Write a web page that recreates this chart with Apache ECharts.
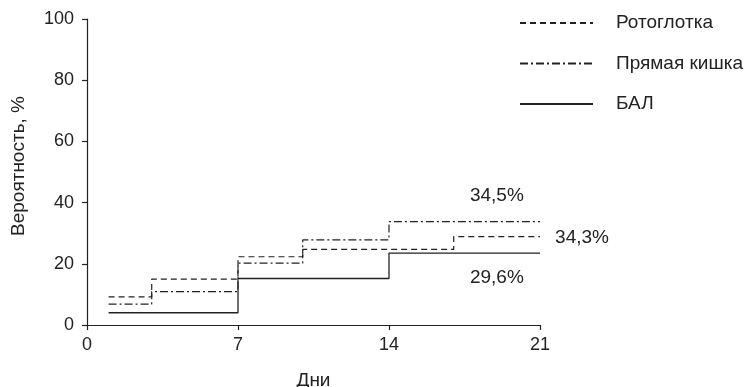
<!DOCTYPE html>
<html><head><meta charset="utf-8">
<script src="https://cdn.jsdelivr.net/npm/echarts@6/dist/echarts.min.js"></script>
<style>html,body{margin:0;padding:0;background:#fff}#c{width:749px;height:387px}</style>
</head><body><div id="c"></div>
<script>
var seriesNames = ['Ротоглотка', 'Прямая кишка', 'БАЛ'];
var daysOro = [1, 3, 7, 10, 17, 21];
var valsOro = [9.2, 15.0, 22.3, 24.7, 28.9, 28.9];
var daysRect = [1, 3, 7, 10, 14, 21];
var valsRect = [6.8, 10.9, 20.2, 27.8, 33.8, 33.8];
var daysBal = [1, 7, 14, 21];
var valsBal = [4.0, 15.2, 23.5, 23.5];
var xTicks = [0, 7, 14, 21];
var yTicks = [0, 20, 40, 60, 80, 100];
var noteTexts = ['34,5%', '34,3%', '29,6%'];
var noteCoords = [[19.0, 42.2], [21, 28.5], [19.0, 15.4]];
var noteShift = [[0, 0], [42, 0], [0, 0]];

function pairs(d, v) { return d.map(function (x, i) { return [x, v[i]]; }); }
var font = 'Liberation Sans, Arial, sans-serif';
var ink = '#222';

var chart = echarts.init(document.getElementById('c'));
chart.setOption({
  animation: false,
  backgroundColor: '#fff',
  textStyle: { fontFamily: font },
  grid: { left: 87, right: 209, top: 19, bottom: 62, containLabel: false, outerBoundsMode: 'none' },
  legend: {
    orient: 'vertical', left: 519, top: 13, padding: 0,
    itemWidth: 73, itemHeight: 20, itemGap: 20.5,
    itemStyle: { opacity: 0 },
    textStyle: { fontSize: 19, lineHeight: 20, color: ink, fontFamily: font, padding: [0, 0, 0, 18] },
    data: seriesNames
  },
  xAxis: {
    type: 'value', min: xTicks[0], max: xTicks[xTicks.length - 1], interval: 7,
    name: 'Дни', nameLocation: 'middle', nameGap: 46,
    nameTextStyle: { fontSize: 19, color: ink },
    axisLine: { lineStyle: { color: ink, width: 1.2 } },
    axisTick: { length: 5, lineStyle: { color: ink, width: 1.2 } },
    axisLabel: { fontSize: 18, color: ink, margin: 11 },
    splitLine: { show: false }
  },
  yAxis: {
    type: 'value', min: yTicks[0], max: yTicks[yTicks.length - 1], interval: 20,
    name: 'Вероятность, %', nameLocation: 'middle', nameGap: 59,
    nameTextStyle: { fontSize: 19, color: ink, padding: [0, 0, 0, 12] },
    axisLine: { show: true, lineStyle: { color: ink, width: 1.2 } },
    axisTick: { show: true, length: 5, lineStyle: { color: ink, width: 1.2 } },
    axisLabel: { fontSize: 18, color: ink, margin: 13 },
    splitLine: { show: false }
  },
  series: [
    {
      name: seriesNames[0], type: 'line', step: 'end', symbol: 'none',
      data: pairs(daysOro, valsOro),
      lineStyle: { color: ink, width: 1.2, type: [6, 4] },
      itemStyle: { color: ink },
      markPoint: {
        symbol: 'circle', symbolSize: 0,
        label: { show: true, position: 'inside', fontSize: 19, color: ink, formatter: function (p) { return p.name; } },
        data: noteTexts.map(function (t, i) {
          return { name: t, coord: noteCoords[i], label: { offset: noteShift[i] } };
        })
      }
    },
    {
      name: seriesNames[1], type: 'line', step: 'end', symbol: 'none',
      data: pairs(daysRect, valsRect),
      lineStyle: { color: ink, width: 1.2, type: [8, 3, 2, 3] },
      itemStyle: { color: ink }
    },
    {
      name: seriesNames[2], type: 'line', step: 'end', symbol: 'none',
      data: pairs(daysBal, valsBal),
      lineStyle: { color: ink, width: 1.3, type: 'solid' },
      itemStyle: { color: ink }
    }
  ]
});
</script></body></html>
